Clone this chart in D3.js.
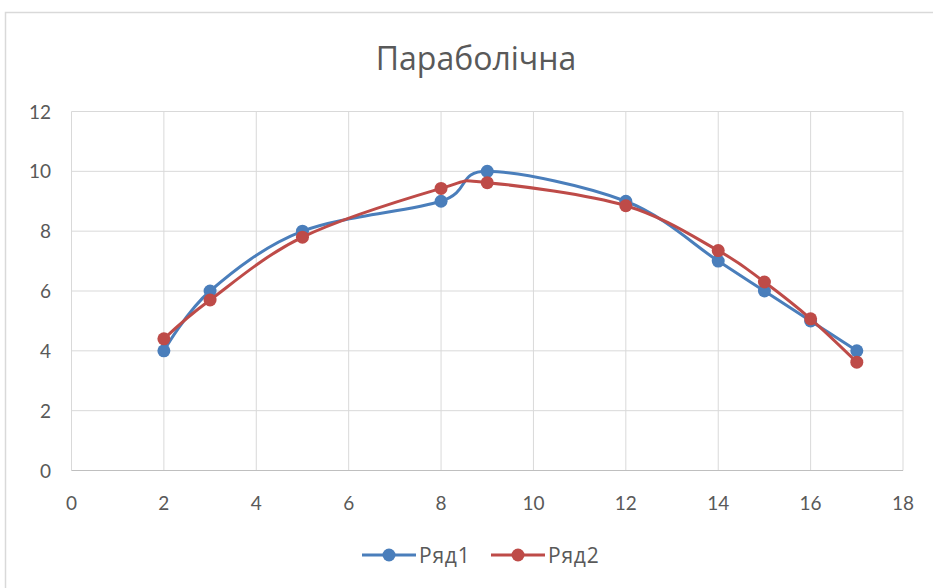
<!DOCTYPE html>
<html>
<head>
<meta charset="utf-8">
<script src="https://cdn.jsdelivr.net/npm/d3@7"></script>
<style>
  body { margin: 0; background: #fff; }
  svg text { font-family: Lato, "Open Sans", sans-serif; fill: #595959; }
</style>
</head>
<body>
<div id="graphic"></div>
<script>
// chart data
const chartTitle = "Параболічна";
const xValues = [2, 3, 5, 8, 9, 12, 14, 15, 16, 17];
const series1 = [4, 6, 8, 9, 10, 9, 7, 6, 5, 4];
const series2 = [4.4, 5.7, 7.8, 9.43, 9.62, 8.85, 7.35, 6.3, 5.07, 3.62];
const seriesNames = ["Ряд1", "Ряд2"];
const seriesColours = ["#4a7ebb", "#be4b48"];
const xTicks = [0, 2, 4, 6, 8, 10, 12, 14, 16, 18];
const yTicks = [0, 2, 4, 6, 8, 10, 12];

const width = 933, height = 588;
const margin = { top: 111.5, left: 71.5 };

const svg = d3.select('#graphic').append('svg')
  .attr('width', width)
  .attr('height', height);

// outer chart border (runs off the right and bottom edges)
svg.append('rect')
  .attr('x', 5.5).attr('y', 12.5)
  .attr('width', 960).attr('height', 620)
  .attr('fill', 'none')
  .attr('stroke', '#d9d9d9')
  .attr('stroke-width', 1.5);

const x = d3.scaleLinear().domain([0, 18]).range([margin.left, 903]);
const y = d3.scaleLinear().domain([0, 12]).range([470.5, margin.top]);

// gridlines
svg.append('g').selectAll('line').data(xTicks).join('line')
  .attr('x1', d => x(d)).attr('x2', d => x(d))
  .attr('y1', y(0)).attr('y2', y(12))
  .attr('stroke', '#d9d9d9').attr('stroke-width', 1);

svg.append('g').selectAll('line').data(yTicks).join('line')
  .attr('x1', x(0)).attr('x2', x(18))
  .attr('y1', d => y(d)).attr('y2', d => y(d))
  .attr('stroke', d => d == 0 ? '#bfbfbf' : '#d9d9d9').attr('stroke-width', 1);

// axis labels
svg.append('g').selectAll('text').data(xTicks).join('text')
  .attr('x', d => x(d)).attr('y', 510)
  .attr('text-anchor', 'middle')
  .style('font-size', '19px')
  .text(d => d);

svg.append('g').selectAll('text').data(yTicks).join('text')
  .attr('x', 51).attr('y', d => y(d) + 7)
  .attr('text-anchor', 'end')
  .style('font-size', '19px')
  .text(d => d);

// title
svg.append('text')
  .attr('x', 476).attr('y', 70)
  .attr('text-anchor', 'middle')
  .style('font-family', '"Open Sans", sans-serif')
  .style('font-size', '32px')
  .text(chartTitle);

// smoothed lines like excel
const line = d3.line()
  .curve(d3.curveCardinal.tension(0))
  .x(d => x(d[0]))
  .y(d => y(d[1]));

const allSeries = [series1, series2].map(s => xValues.map((v, i) => [v, s[i]]));

allSeries.forEach((s, i) => {
  const g = svg.append('g');
  g.append('path')
    .attr('d', line(s))
    .attr('fill', 'none')
    .attr('stroke', seriesColours[i])
    .attr('stroke-width', 3)
    .attr('stroke-linecap', 'round');
  g.selectAll('circle').data(s).join('circle')
    .attr('cx', d => x(d[0])).attr('cy', d => y(d[1]))
    .attr('r', 6.5)
    .attr('fill', seriesColours[i]);
});

// legend
const legendX = [362, 491];
const legend = svg.append('g').selectAll('g').data(seriesNames).join('g')
  .attr('transform', (d, i) => 'translate(' + legendX[i] + ',555)');

legend.append('line')
  .attr('x1', 0).attr('x2', 54)
  .attr('stroke', (d, i) => seriesColours[i])
  .attr('stroke-width', 3);
legend.append('circle')
  .attr('cx', 27).attr('r', 6.5)
  .attr('fill', (d, i) => seriesColours[i]);
legend.append('text')
  .attr('x', 57).attr('y', 8)
  .style('font-family', '"Open Sans", sans-serif')
  .style('font-size', '21px')
  .style('letter-spacing', '0.8px')
  .text(d => d);
</script>
</body>
</html>
